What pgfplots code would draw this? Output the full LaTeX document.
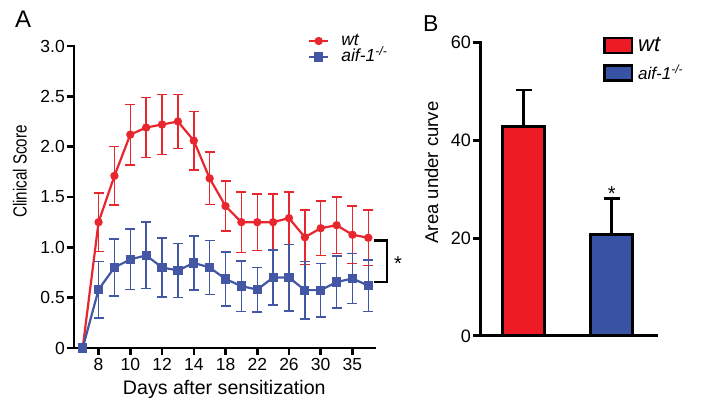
\documentclass[border=0pt]{standalone}
\usepackage{fontspec}
\setmainfont{Liberation Sans}
\usepackage{graphicx}
\usepackage{pgfplots}
\usepackage{pgfplotstable}
\pgfplotsset{compat=1.18}
\definecolor{wtred}{HTML}{E8262D}
\definecolor{koblue}{HTML}{4357A5}
\definecolor{barred}{HTML}{ED1C24}
\definecolor{barblue}{HTML}{3953A4}
\newcommand{\fs}[1]{\fontsize{#1}{1.2\dimexpr#1pt\relax}\selectfont}

\pgfplotstableread{
x y e
0 0 0
1 1.25 0.29
2 1.71 0.29
3 2.12 0.30
4 2.19 0.30
5 2.22 0.30
6 2.25 0.27
7 2.06 0.29
8 1.685 0.26
9 1.41 0.25
10 1.25 0.30
11 1.25 0.28
12 1.25 0.28
13 1.29 0.26
14 1.10 0.27
15 1.19 0.27
16 1.22 0.28
17 1.125 0.285
18 1.095 0.275
}\wttab

\pgfplotstableread{
x y e
0 0 0
1 0.58 0.28
2 0.80 0.285
3 0.88 0.30
4 0.92 0.33
5 0.80 0.295
6 0.77 0.27
7 0.845 0.27
8 0.80 0.27
9 0.685 0.27
10 0.615 0.25
11 0.58 0.22
12 0.70 0.275
13 0.70 0.33
14 0.575 0.285
15 0.575 0.265
16 0.655 0.26
17 0.69 0.25
18 0.62 0.255
}\kotab

\begin{document}
\begin{tikzpicture}
\useasboundingbox (0,0) rectangle (702pt,-411pt);
\node[anchor=base west, inner sep=0pt, font=\fs{24}] at (15pt,-27.3pt) {A};
\node[anchor=base west, inner sep=0pt, font=\fs{23}] at (423pt,-31.7pt) {B};

% ---------------- Panel A ----------------
\begin{axis}[
  at={(74pt,-348pt)}, anchor=south west,
  scale only axis, width=301pt, height=302pt,
  xmin=-0.548, xmax=18.42, ymin=0, ymax=3,
  axis x line*=bottom, axis y line*=left,
  axis line style={-, line width=2.5pt, black, line cap=rect},
  tick style={line width=2.5pt, black},
  tick align=outside, major tick length=7pt,
  xtick={1,3,5,7,9,11,13,15,17},
  xticklabels={8,10,12,14,18,22,26,30,35},
  ytick={0,0.5,1,1.5,2,2.5,3},
  yticklabels={0,0.5,1.0,1.5,2.0,2.5,3.0},
  tick label style={font=\fs{17.5}},
  yticklabel style={inner sep=2pt},
  /pgf/number format/assume math mode=true,
  xlabel={Days after sensitization},
  xlabel style={font=\fs{19.6}, at={(axis description cs:0.4993,0)}, anchor=base, yshift=-47pt},
  ylabel={\scalebox{0.8}[1]{Clinical Score}},
  ylabel style={font=\fs{19}, at={(axis description cs:-0.1571,0.5844)}, anchor=base},
  clip=false,
  legend style={draw=none, fill=none, at={(rel axis cs:0.777,1.042)}, anchor=north west,
    inner sep=0pt, row sep=1pt, font=\fs{17.5},
    nodes={inner sep=0pt, text height=12pt, text depth=3pt},
    /tikz/every odd column/.append style={column sep=12pt}},
  legend cell align=left,
  legend image code/.code={\draw[mark repeat=2,mark phase=2,#1] plot coordinates {(0pt,0pt) (9.5pt,0pt) (19pt,0pt)};},
]
\addplot[forget plot, wtred, only marks, mark=none,
  error bars/.cd, y dir=both, y explicit,
  error bar style={line width=1.5pt, solid, wtred},
  error mark options={rotate=90, line width=1.5pt, mark size=5pt, wtred}]
  table[x=x, y=y, y error=e, skip coords between index={0}{1}] {\wttab};
\addplot[wtred, line width=2.2pt, mark=*, mark size=3pt, mark options={solid}]
  table[x=x, y=y] {\wttab};
\addlegendentry{\textit{wt}}
\addplot[forget plot, koblue, only marks, mark=none,
  error bars/.cd, y dir=both, y explicit,
  error bar style={line width=1.5pt, solid, koblue},
  error mark options={rotate=90, line width=1.5pt, mark size=5pt, koblue}]
  table[x=x, y=y, y error=e, skip coords between index={0}{1}] {\kotab};
\addplot[koblue, line width=2.2pt, mark=square*, mark size=3.5pt, mark options={solid}]
  table[x=x, y=y] {\kotab};
\addlegendentry{\textit{aif-1\textsuperscript{-/-}}}
\draw[black, line width=2.5pt] (axis cs:18.37,1.0655) -- (axis cs:19.17,1.0655) -- (axis cs:19.17,0.658) -- (axis cs:18.37,0.658);
\node[anchor=base, inner sep=0pt, font=\fs{20}] at (axis cs:19.87,0.765) {*};
\end{axis}

% ---------------- Panel B ----------------
\begin{axis}[
  at={(480pt,-336pt)}, anchor=south west,
  scale only axis, width=176pt, height=293.7pt,
  xmin=-0.494, xmax=1.503, ymin=0, ymax=60,
  axis x line*=bottom, axis y line*=left,
  axis line style={-, line width=3pt, black, line cap=rect},
  tick style={line width=3pt, black},
  tick align=outside, major tick length=7pt,
  xtick=\empty,
  ytick={0,20,40,60}, yticklabels={0,20,40,60},
  tick label style={font=\fs{18}},
  yticklabel style={inner sep=2pt},
  /pgf/number format/assume math mode=true,
  ylabel={Area under curve},
  ylabel style={font=\fs{18.5}, at={(axis description cs:-0.2386,0.5567)}, anchor=base},
  clip=false,
  legend style={draw=none, fill=none, at={(rel axis cs:0.699,1.020)}, anchor=north west,
    inner sep=0pt, row sep=10pt,
    nodes={inner sep=0pt},
    /tikz/every odd column/.append style={column sep=5pt}},
  legend cell align=left,
  legend image code/.code={\draw[#1, line width=2.5pt] (1.25pt,-7.5pt) rectangle (28.75pt,7.5pt);},
]
\addplot[ybar, bar width=42pt, bar shift=0pt, fill=barred, draw=black, line width=3pt,
  error bars/.cd, y dir=plus, y explicit,
  error bar style={line width=2.5pt, black},
  error mark options={rotate=90, line width=2.5pt, mark size=8pt, black}]
  coordinates {(0,42.9) +- (0,7.35)};
\addlegendentry{\fs{22}\textit{wt}}
\addplot[ybar, bar width=42pt, bar shift=0pt, fill=barblue, draw=black, line width=3pt,
  error bars/.cd, y dir=plus, y explicit,
  error bar style={line width=2.5pt, black},
  error mark options={rotate=90, line width=2.5pt, mark size=8pt, black}]
  coordinates {(1,20.8) +- (0,7.25)};
\addlegendentry{\fs{17}\textit{aif-1\textsuperscript{-/-}}}
\node[anchor=base, inner sep=0pt, font=\fs{20}] at (axis cs:1,27.6) {*};
\end{axis}
\end{tikzpicture}
\end{document}
